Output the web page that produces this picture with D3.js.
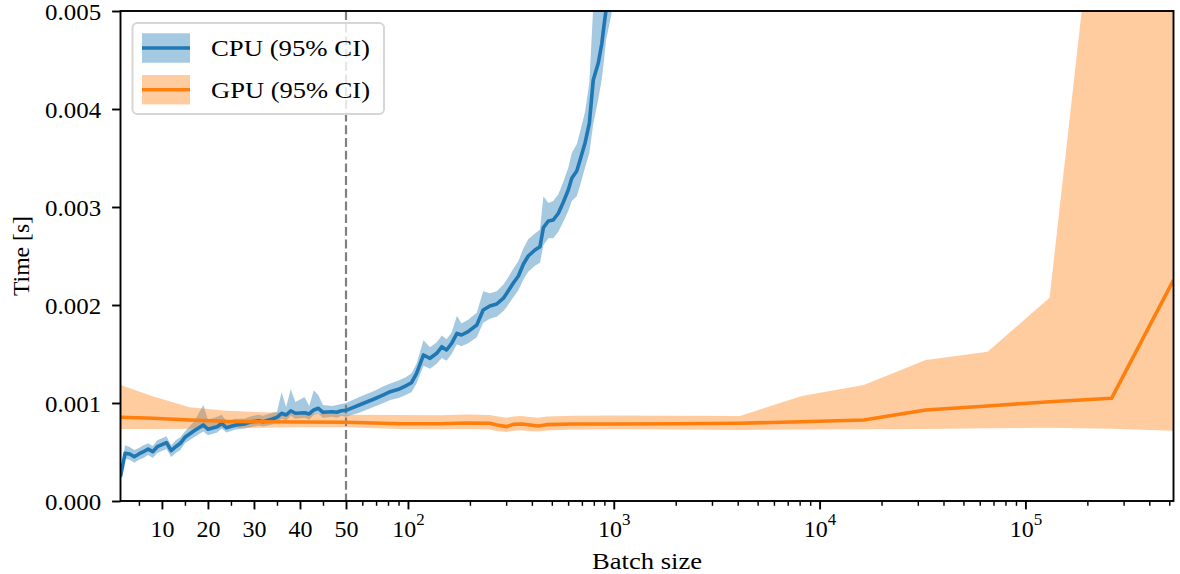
<!DOCTYPE html>
<html><head><meta charset="utf-8">
<script src="https://cdn.jsdelivr.net/npm/d3@7"></script>
<style>
html,body{margin:0;padding:0;background:#fff;}
svg{display:block;}
text{font-family:"Liberation Serif","Times New Roman",serif;}
</style></head><body>
<svg id="chart" width="1180" height="574"></svg>
<script>
// ---------------- data ----------------
const cpuBatch = [1,2,3,4,5,6,7,8,9,11,12,13,14,15,17,19,20,22,23,24,26,28,29,31,32,34,35,36,37,38,39,41,42,43,44,45,47,48,49,50,
  58,68,76,82,90,97,104,110,119,128,138,146,154,163,173,182,196,216,232,250,270,291,302,325,344,364,384,414,438,455,
  481,508,538,569,601,625,661,686,725,761,795,841,874,897,917,960,1000];
const cpuMean = [0.000248,0.000487,0.000480,0.000452,0.000480,0.000503,0.000531,0.000503,0.000554,0.000595,0.000513,0.000554,0.000589,0.000650,0.000717,0.000776,0.000732,0.000758,0.000793,0.000748,0.000776,0.000786,0.000803,0.000819,0.000809,0.000837,0.000854,0.000895,0.000878,0.000921,0.000895,0.000901,0.000888,0.000929,0.000946,0.000905,0.000911,0.000905,0.000921,0.000925,
  0.000980,0.001038,0.001082,0.001115,0.001140,0.001173,0.001207,0.001300,0.001490,0.001456,0.001507,0.001574,0.001541,0.001609,0.001711,0.001694,0.001728,0.001796,0.001949,0.001990,0.002010,0.002070,0.002120,0.002224,0.002296,0.002418,0.002500,0.002561,0.002595,0.002789,
  0.002857,0.002867,0.002936,0.003051,0.003173,0.003293,0.003367,0.003480,0.003653,0.003857,0.004296,0.004469,0.004663,0.004857,0.005010,0.005300,0.005600];
const cpuLow = [0.00020,0.00043,0.00042,0.00039,0.00042,0.00044,0.00047,0.00044,0.00049,0.00053,0.00045,0.00049,0.00052,0.00059,0.00065,0.00071,0.00067,0.00070,0.00074,0.00070,0.00073,0.00074,0.00075,0.00077,0.00076,0.00078,0.00080,0.00084,0.00082,0.00087,0.00084,0.00085,0.00083,0.00088,0.00089,0.00085,0.00086,0.00085,0.00087,0.00086,
  0.00090,0.00096,0.00100,0.00103,0.00105,0.00108,0.00111,0.00120,0.00138,0.00135,0.00140,0.00146,0.00143,0.00150,0.00160,0.00158,0.00161,0.00167,0.00182,0.00186,0.00188,0.00194,0.00198,0.00208,0.00215,0.00226,0.00234,0.00240,0.00243,0.00261,
  0.00268,0.00268,0.00275,0.00285,0.00296,0.00306,0.00311,0.00322,0.00340,0.00355,0.00385,0.00410,0.00430,0.00450,0.00470,0.00490,0.00510];
const cpuHigh = [0.00030,0.00057,0.00055,0.00052,0.00054,0.00057,0.00059,0.00056,0.00062,0.00066,0.00057,0.00062,0.00065,0.00071,0.00081,0.00098,0.00083,0.00086,0.00088,0.00081,0.00084,0.00084,0.00086,0.00088,0.00087,0.00090,0.00091,0.00111,0.00096,0.00114,0.00101,0.00106,0.00097,0.00113,0.00108,0.00098,0.00097,0.00098,0.00099,0.00100,
  0.00106,0.00112,0.00117,0.00120,0.00123,0.00126,0.00130,0.00140,0.00164,0.00157,0.00162,0.00169,0.00165,0.00172,0.00189,0.00181,0.00185,0.00192,0.00214,0.00212,0.00214,0.00221,0.00226,0.00237,0.00245,0.00258,0.00267,0.00273,0.00277,0.00311,
  0.00304,0.00306,0.00313,0.00326,0.00340,0.00355,0.00364,0.00377,0.00397,0.00427,0.00505,0.00520,0.00540,0.00560,0.00580,0.00610,0.00640];

const gpuBatch = [1,8,16,24,32,40,50,91,143,193,250,270,302,325,357,392,430,472,636,1000,2048,4096,8192,16384,32768,65536,131072,262144,524288];
const gpuMean = [0.000854,0.000844,0.000827,0.000813,0.000809,0.000806,0.000803,0.000789,0.000789,0.000796,0.000793,0.000776,0.000759,0.000782,0.000786,0.000776,0.000765,0.000779,0.000786,0.000786,0.000789,0.000793,0.000809,0.000827,0.000929,0.000969,0.001013,0.001048,0.002255];
const gpuLow = [0.000735,0.000735,0.000738,0.000745,0.000748,0.000752,0.000752,0.000735,0.000732,0.000735,0.000730,0.000715,0.000705,0.000718,0.000722,0.000712,0.000708,0.000720,0.000730,0.000732,0.000730,0.000724,0.000730,0.000731,0.000735,0.000742,0.000748,0.000738,0.000717];
const gpuHigh = [0.001184,0.001069,0.000956,0.000921,0.000905,0.000895,0.000881,0.000878,0.000874,0.000882,0.000878,0.000865,0.000850,0.000862,0.000867,0.000858,0.000850,0.000862,0.000870,0.000872,0.000870,0.000867,0.001071,0.001184,0.001439,0.001524,0.002074,0.00772,0.0120];

const seriesNames = ["CPU (95% CI)", "GPU (95% CI)"];
const yTicks = [0, 0.001, 0.002, 0.003, 0.004, 0.005];
const xLinearTicks = [10, 20, 30, 40, 50];
const xLinearMinor = [5, 15, 25, 35, 45];
const xLogTicks = [100, 1000, 10000, 100000];
const xLogExponents = ["2", "3", "4", "5"];
const splitBatch = 50;
const maxBatch = 524288;

// ---------------- layout ----------------
const L = 120.5, R = 1173.5, T = 11, B = 501, XS = 346;
const FS = 24;
const cpuColor = "#1f77b4", gpuColor = "#ff7f0e";

const svg = d3.select("#chart");
const xLin = d3.scaleLinear().domain([1, splitBatch]).range([L, XS]);
const xLog = d3.scaleLog().domain([splitBatch, maxBatch]).range([XS, R]);
const x = v => v <= splitBatch ? xLin(v) : xLog(v);
const y = d3.scaleLinear().domain([0, 0.005]).range([B, T]);

svg.append("defs").append("clipPath").attr("id", "clip")
  .append("rect").attr("x", L).attr("y", T).attr("width", R - L).attr("height", B - T);

const zip = (b, m, lo, hi) => b.map((v, i) => ({b: v, m: m[i], lo: lo[i], hi: hi[i]}));
const cpu = zip(cpuBatch, cpuMean, cpuLow, cpuHigh);
const gpu = zip(gpuBatch, gpuMean, gpuLow, gpuHigh);

const area = d3.area().x(d => x(d.b)).y0(d => y(d.lo)).y1(d => y(d.hi));
const line = d3.line().x(d => x(d.b)).y(d => y(d.m));

const plot = svg.append("g").attr("clip-path", "url(#clip)");
plot.append("path").datum(cpu).attr("d", area).attr("fill", cpuColor).attr("fill-opacity", 0.4);
plot.append("path").datum(gpu).attr("d", area).attr("fill", gpuColor).attr("fill-opacity", 0.4);
plot.append("line").attr("x1", x(splitBatch)).attr("x2", x(splitBatch)).attr("y1", T).attr("y2", B)
  .attr("stroke", "#808080").attr("stroke-width", 2.2).attr("stroke-dasharray", "8.9,3.8");
plot.append("path").datum(cpu).attr("d", line).attr("fill", "none").attr("stroke", cpuColor)
  .attr("stroke-width", 3.6).attr("stroke-linejoin", "round");
plot.append("path").datum(gpu).attr("d", line).attr("fill", "none").attr("stroke", gpuColor)
  .attr("stroke-width", 3.6).attr("stroke-linejoin", "round");

// ---------------- axes ----------------
function styleAxis(g, w) {
  g.select(".domain").remove();
  g.selectAll(".tick line").attr("stroke", "#000").attr("stroke-width", w);
  g.attr("font-family", null).attr("font-size", FS);
  g.selectAll("text").attr("fill", "#000");
}
const gx = svg.append("g").attr("transform", `translate(0,${B})`);
const ax1 = gx.append("g").call(d3.axisBottom(xLin).tickValues(xLinearTicks).tickSize(8.4).tickFormat(d3.format("d")));
styleAxis(ax1, 1.9);
ax1.selectAll("text").attr("y", 36).attr("dy", 0);
const ax2 = gx.append("g").call(d3.axisBottom(xLin).tickValues(xLinearMinor).tickSize(4.8).tickFormat(""));
styleAxis(ax2, 1.45);
const ax3 = gx.append("g").call(d3.axisBottom(xLog).tickValues(xLogTicks).tickSize(8.4).tickFormat(""));
styleAxis(ax3, 1.9);
ax3.selectAll(".tick text").each(function(d, i) {
  const t = d3.select(this).attr("y", 36).attr("dy", 0).text(null);
  t.append("tspan").text("10");
  t.append("tspan").attr("font-size", 17).attr("dy", -12).text(xLogExponents[i]);
});
const minorLog = [];
for (let e = 1; e <= 5; e++) for (let m = 2; m <= 9; m++) {
  const v = m * Math.pow(10, e);
  if (v > splitBatch && v < maxBatch) minorLog.push(v);
}
const ax4 = gx.append("g").call(d3.axisBottom(xLog).tickValues(minorLog).tickSize(4.8).tickFormat(""));
styleAxis(ax4, 1.45);

const gy = svg.append("g").attr("transform", `translate(${L},0)`)
  .call(d3.axisLeft(y).tickValues(yTicks).tickSize(8.4).tickPadding(11).tickFormat(d3.format(".3f")));
styleAxis(gy, 1.9);
gy.selectAll("text").attr("dy", "0.34em").attr("textLength", 56).attr("lengthAdjust", "spacingAndGlyphs");

// spines
svg.append("rect").attr("x", L).attr("y", T).attr("width", R - L).attr("height", B - T)
  .attr("fill", "none").attr("stroke", "#000").attr("stroke-width", 1.9);

// labels
svg.append("text").attr("x", (L + R) / 2).attr("y", 569).attr("text-anchor", "middle")
  .attr("font-size", FS).attr("textLength", 110).attr("lengthAdjust", "spacingAndGlyphs").text("Batch size");
svg.append("text").attr("transform", `translate(29,${(T + B) / 2}) rotate(-90)`).attr("text-anchor", "middle")
  .attr("font-size", FS).attr("textLength", 80).attr("lengthAdjust", "spacingAndGlyphs").text("Time [s]");

// ---------------- legend ----------------
const lg = svg.append("g");
lg.append("rect").attr("x", 132.5).attr("y", 23).attr("width", 251.5).attr("height", 91).attr("rx", 4.8)
  .attr("fill", "#fff").attr("fill-opacity", 0.8).attr("stroke", "#d6d6d6").attr("stroke-width", 2);
[cpuColor, gpuColor].forEach((c, i) => {
  const cy = 48 + i * 41.7;
  lg.append("rect").attr("x", 142).attr("y", cy - 14.7).attr("width", 48).attr("height", 29.4)
    .attr("fill", c).attr("fill-opacity", 0.4);
  lg.append("line").attr("x1", 142).attr("x2", 190).attr("y1", cy).attr("y2", cy)
    .attr("stroke", c).attr("stroke-width", 3.6);
  lg.append("text").attr("x", 211).attr("y", cy + 8).attr("font-size", FS)
    .attr("textLength", 159).attr("lengthAdjust", "spacingAndGlyphs").text(seriesNames[i]);
});
</script>
</body></html>
